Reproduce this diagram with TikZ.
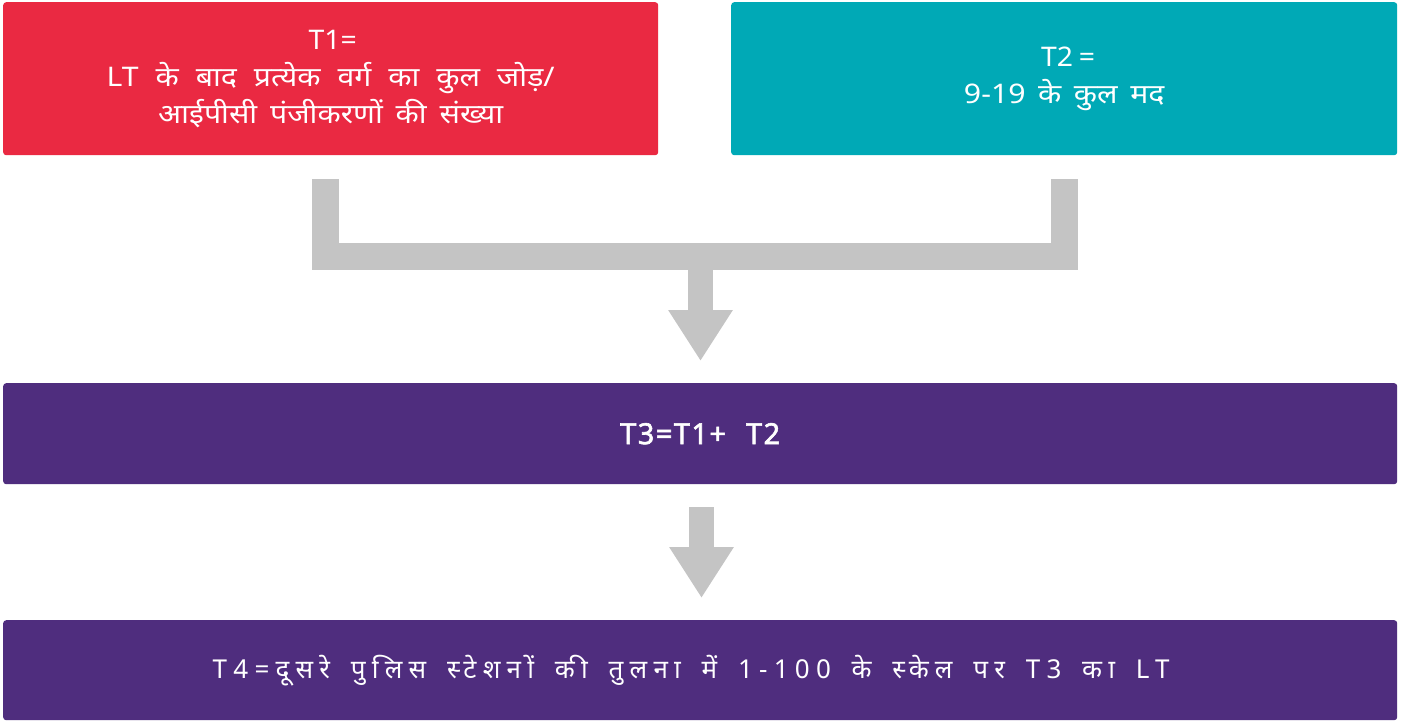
\documentclass[tikz,border=0pt]{standalone}
\usepackage{fontspec}
\newfontfamily\hindi[Script=Devanagari]{Noto Sans}
\newfontfamily\hindisp[Script=Devanagari,LetterSpace=24]{Noto Sans}
\newfontfamily\hindispb[Script=Devanagari,LetterSpace=5,FakeBold=2]{Noto Sans}
\usetikzlibrary{arrows.meta}
\definecolor{cred}{RGB}{234,41,66}
\definecolor{cteal}{RGB}{0,169,182}
\definecolor{cpurple}{RGB}{79,45,126}
\definecolor{cgrey}{RGB}{196,196,196}
\newcommand\fitline[3]{\scalebox{#2}[1]{\hbox to #1{\spaceskip=0.2em plus 1fil\relax #3}}}
\tikzset{
  box/.style={rounded corners=3pt, inner sep=0pt, anchor=north west, text=white, align=center,
    font=\hindi\fontsize{27}{37}\selectfont},
  fork/.style={draw=cgrey, line width=27pt, line cap=butt, line join=miter},
  down/.style={draw=cgrey, line width=25pt, line cap=butt, -{Triangle[width=61pt,length=51pt]}, cgrey},
}
\begin{document}
\begin{tikzpicture}[x=1pt,y=-1pt]
\useasboundingbox[fill=white] (0,0) rectangle (1410,721);
\node[box, fill=cred, minimum width=655pt, minimum height=153pt] (t1) at (3,2)
  {\fitline{42pt}{1.05}{T1=}\\\fitline{400pt}{1.12}{LT के बाद प्रत्येक वर्ग का कुल जोड़/}\\\fitline{308pt}{1.12}{आईपीसी पंजीकरणों की संख्या}};
\node[box, fill=cteal, minimum width=666pt, minimum height=153pt] (t2) at (731,2)
  {\fitline{44pt}{1.05}{T2 =}\\\fitline{179pt}{1.12}{9-19 के कुल मद}};
\node[box, fill=cpurple, minimum width=1394pt, minimum height=101pt, font=\hindispb\fontsize{29}{30}\selectfont] (t3) at (3,383)
  {\fitline{160pt}{1}{T3=T1+ T2}};
\node[box, fill=cpurple, minimum width=1394pt, minimum height=100pt, font=\hindisp\fontsize{26}{30}\selectfont] (t4) at (3,620)
  {\fitline{957pt}{1}{T4=दूसरे पुलिस स्टेशनों की तुलना में 1-100 के स्केल पर T3 का LT}\hspace*{18pt}};
\coordinate (l1) at (325.5,179);
\coordinate (r1) at (1064,179);
\coordinate (m) at (700.5,256.5);
\draw[fork] (l1) |- (m) -| (r1);
\coordinate (a1) at (700.5,270);
\coordinate (a2) at (700.5,361);
\coordinate (b1) at (701.5,507);
\coordinate (b2) at (701.5,598);
\draw[down] (a1) -- (a2);
\draw[down] (b1) -- (b2);
\end{tikzpicture}
\end{document}
